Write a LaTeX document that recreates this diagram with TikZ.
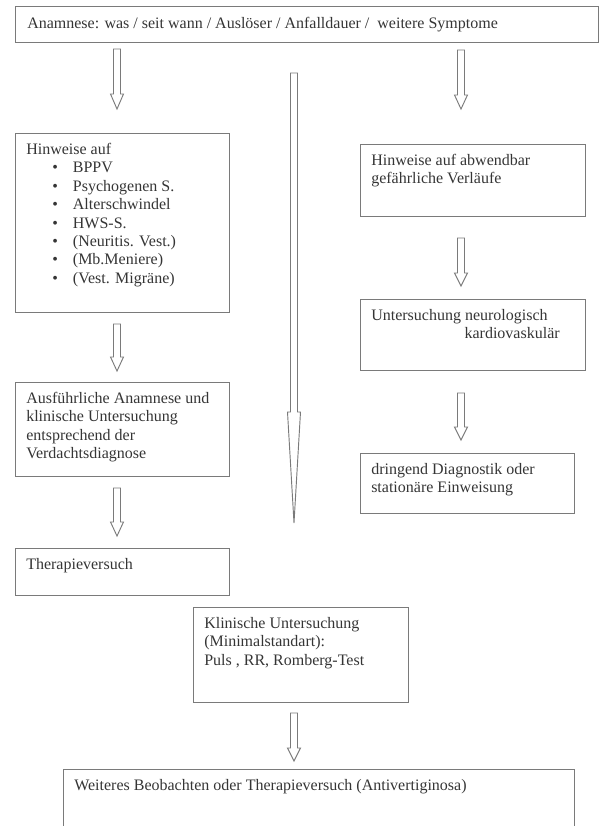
\documentclass[tikz,border=0pt]{standalone}
\usepackage{fontspec}
\setmainfont{Liberation Serif}
\usetikzlibrary{calc}
\definecolor{frame}{HTML}{7A7A7A}
\definecolor{ink}{HTML}{353535}

% hollow block arrow: start, tip, head length
\newcommand{\hollowarrow}[3]{%
  \draw[frame,line width=0.7pt,line join=miter]
    ($(#1)+(-3.5,0)$) -- ($(#2)+(-3.5,-#3)$) -- ($(#2)+(-6.5,-#3)$) -- (#2)
    -- ($(#2)+(6.5,-#3)$) -- ($(#2)+(3.5,-#3)$) -- ($(#1)+(3.5,0)$) -- cycle;}
\newcommand{\bulletline}[1]{\hspace*{19.5pt}\makebox[15.5pt][l]{\textbullet}#1}

\begin{document}
\begin{tikzpicture}[x=0.75pt,y=-0.75pt,
  box/.style={draw=frame,line width=0.9pt,anchor=north west,inner sep=0pt},
  boxsize/.style 2 args={minimum width=#1*0.75pt,minimum height=#2*0.75pt},
  txt/.style={anchor=north west,inner sep=0pt,align=left,text=ink,
    font=\fontsize{12}{13.8}\selectfont}]
  \path[use as bounding box,clip] (0,0) rectangle (600,826);

  % Anamnese
  \node[box,boxsize={583}{36}] (anamnese) at (15,6) {};
  \node[txt] (anamnesetxt) at ([shift={(12,11)}]anamnese.north west)
    {Anamnese: was / seit wann / Auslöser / Anfalldauer /\ \ weitere Symptome};

  % left column
  \node[box,boxsize={214}{179}] (hinweise) at (15,133) {};
  \node[txt] (hinweisetxt) at ([shift={(11,10)}]hinweise.north west)
    {Hinweise auf\\ \bulletline{BPPV}\\ \bulletline{Psychogenen S.}\\
     \bulletline{Alterschwindel}\\ \bulletline{HWS-S.}\\
     \bulletline{(Neuritis. Vest.)}\\ \bulletline{(Mb.Meniere)}\\
     \bulletline{(Vest. Migräne)}};

  \node[box,boxsize={214}{94}] (ausfuehrlich) at (15,382) {};
  \node[txt] (ausfuehrlichtxt) at ([shift={(11,10)}]ausfuehrlich.north west)
    {Ausführliche Anamnese und\\klinische Untersuchung\\entsprechend der\\Verdachtsdiagnose};

  \node[box,boxsize={214}{47}] (therapie) at (15,548) {};
  \node[txt] (therapietxt) at ([shift={(11,10)}]therapie.north west) {Therapieversuch};

  % right column
  \node[box,boxsize={225}{72}] (gefahr) at (360,144) {};
  \node[txt] (gefahrtxt) at ([shift={(11,10)}]gefahr.north west)
    {Hinweise auf abwendbar\\gefährliche Verläufe};

  \node[box,boxsize={225}{71}] (neuro) at (360,299) {};
  \node[txt] (neurotxt) at ([shift={(11,10)}]neuro.north west)
    {Untersuchung neurologisch\\ \hspace*{70pt}kardiovaskulär};

  \node[box,boxsize={214}{60}] (dringend) at (360,453) {};
  \node[txt] (dringendtxt) at ([shift={(11,10)}]dringend.north west)
    {dringend Diagnostik oder\\stationäre Einweisung};

  % bottom
  \node[box,boxsize={215}{95}] (klinisch) at (193,607) {};
  \node[txt] (klinischtxt) at ([shift={(11,10)}]klinisch.north west)
    {Klinische Untersuchung\\(Minimalstandart):\\Puls , RR, Romberg-Test};

  \node[box,boxsize={511}{90}] (weiteres) at (63,769) {};
  \node[txt] (weiterestxt) at ([shift={(11,10)}]weiteres.north west)
    {Weiteres Beobachten oder Therapieversuch (Antivertiginosa)};

  % arrows
  \coordinate (a1s) at (117,49);  \coordinate (a1e) at (117,109);
  \coordinate (a2s) at (294,73);  \coordinate (a2e) at (294,523);
  \coordinate (a3s) at (461,50);  \coordinate (a3e) at (461,109);
  \coordinate (a4s) at (117,324); \coordinate (a4e) at (117,371);
  \coordinate (a5s) at (117,488); \coordinate (a5e) at (117,536);
  \coordinate (a6s) at (461,238); \coordinate (a6e) at (461,286);
  \coordinate (a7s) at (461,393); \coordinate (a7e) at (461,440);
  \coordinate (a8s) at (294,713); \coordinate (a8e) at (294,761);
  \hollowarrow{a1s}{a1e}{15}
  \hollowarrow{a2s}{a2e}{111}
  \hollowarrow{a3s}{a3e}{14}
  \hollowarrow{a4s}{a4e}{14}
  \hollowarrow{a5s}{a5e}{14}
  \hollowarrow{a6s}{a6e}{13}
  \hollowarrow{a7s}{a7e}{13}
  \hollowarrow{a8s}{a8e}{13}
\end{tikzpicture}
\end{document}
